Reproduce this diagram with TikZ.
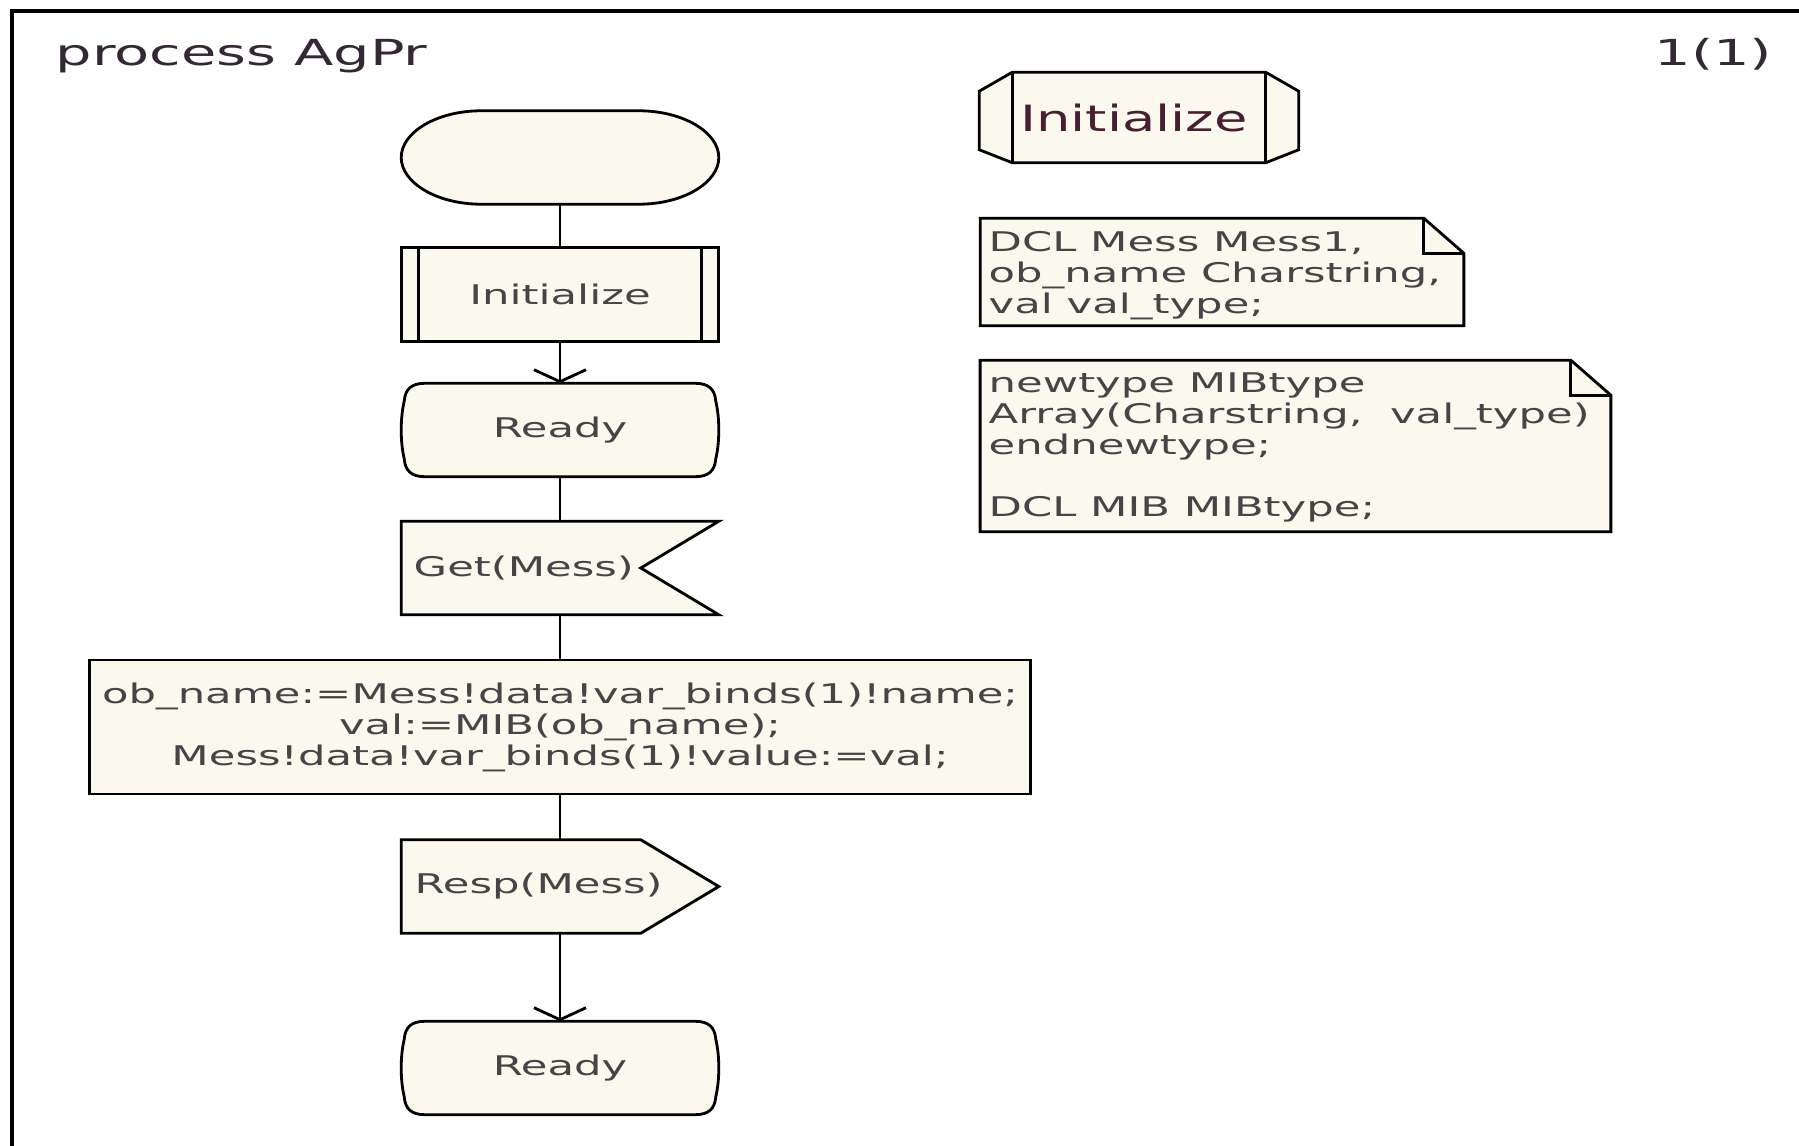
\documentclass[tikz,border=0pt]{standalone}
\usepackage{fontspec}
\setmainfont{DejaVu Sans}[FakeStretch=1.6]
\newfontfamily\reffont{DejaVu Sans}[FakeStretch=1.5]
\usetikzlibrary{calc,arrows.meta}
\pgfdeclarelayer{bg}
\pgfsetlayers{bg,main}
\definecolor{symfill}{RGB}{251,248,238}
\definecolor{inktext}{RGB}{70,68,70}
\definecolor{headtext}{RGB}{52,40,52}
\definecolor{reftext}{RGB}{72,30,50}

% SDL state symbol: flat top and bottom, slightly bulging sides, rounded corners
\newcommand\statesym[1]{%
  \draw[sym] ($(#1.north west)+(24,0)$) -- ($(#1.north east)+(-24,0)$)
    .. controls ($(#1.north east)+(-10,0)$) and ($(#1.north east)+(-4,6)$) .. ($(#1.north east)+(-3,18)$)
    .. controls ($(#1.north east)+(1,35)$) and ($(#1.south east)+(1,-35)$) .. ($(#1.south east)+(-3,-18)$)
    .. controls ($(#1.south east)+(-4,-6)$) and ($(#1.south east)+(-10,0)$) .. ($(#1.south east)+(-24,0)$)
    -- ($(#1.south west)+(24,0)$)
    .. controls ($(#1.south west)+(10,0)$) and ($(#1.south west)+(4,-6)$) .. ($(#1.south west)+(3,-18)$)
    .. controls ($(#1.south west)+(-1,-35)$) and ($(#1.north west)+(-1,35)$) .. ($(#1.north west)+(3,18)$)
    .. controls ($(#1.north west)+(4,6)$) and ($(#1.north west)+(10,0)$) .. cycle;}

\begin{document}
\begin{tikzpicture}[x=0.01cm,y=-0.01cm,
  sym/.style={draw=black,line width=0.8pt,fill=symfill,line join=miter},
  slot/.style={inner sep=0pt,minimum width=3.16cm,minimum height=0.92cm},
  lbl/.style={inner sep=0pt,text=inktext,font=\fontsize{7.7pt}{8.8pt}\selectfont},
  flow/.style={draw=black,line width=0.8pt},
  arr/.style={flow,-{Straight Barb[length=0.12cm,width=0.52cm]}}
]
\useasboundingbox (0,0) rectangle (1799,1146);

% page frame
\draw[line width=1.3pt] (1799,11) -- (12,11) -- (12,1146);

% headings
\node[anchor=base west,inner sep=0pt,text=headtext,font=\fontsize{10.2pt}{12pt}\selectfont] (title) at (55,66) {process AgPr};
\node[anchor=base east,inner sep=0pt,text=headtext,font=\fontsize{10.2pt}{12pt}\selectfont] (page) at (1773,66) {1(1)};

% flow column placeholders
\node[slot] (start) at (560,157.5) {};
\node[slot] (init) at (560,294.5) {};
\node[slot] (ready1) at (560,430) {};
\node[slot] (get) at (560,568) {};
\node[slot] (resp) at (560,886.5) {};
\node[slot] (ready2) at (560,1068) {};

% task symbol
\node[sym,inner sep=0pt,minimum width=9.4cm,minimum height=1.34cm,align=center,
      text=inktext,font=\fontsize{7.7pt}{8.8pt}\selectfont] (task) at (560,727)
  {ob\_name:=Mess!data!var\_binds(1)!name;\\val:=MIB(ob\_name);\\Mess!data!var\_binds(1)!value:=val;};

% declarations column placeholders
\node[inner sep=0pt,minimum width=3.18cm,minimum height=0.89cm] (ref) at (1139,117.5) {};
\node[inner sep=0pt,minimum width=4.82cm,minimum height=1.06cm] (ann1) at (1222,272) {};
\node[inner sep=0pt,minimum width=6.29cm,minimum height=1.70cm] (ann2) at (1295.5,446) {};

\begin{pgfonlayer}{bg}
  \fill[white] (0,0) rectangle (1799,1146);
  % start symbol
  \draw[sym] ($(start.north west)+(80,0)$) -- ($(start.north east)+(-80,0)$)
    .. controls ($(start.north east)+(-36,0)$) and ($(start.east)+(0,-25.4)$) .. (start.east)
    .. controls ($(start.east)+(0,25.4)$) and ($(start.south east)+(-36,0)$) .. ($(start.south east)+(-80,0)$)
    -- ($(start.south west)+(80,0)$)
    .. controls ($(start.south west)+(36,0)$) and ($(start.west)+(0,25.4)$) .. (start.west)
    .. controls ($(start.west)+(0,-25.4)$) and ($(start.north west)+(36,0)$) .. cycle;
  % procedure call
  \draw[sym] (init.north west) rectangle (init.south east);
  \draw[flow] ($(init.north west)+(17,0)$) -- ($(init.south west)+(17,0)$);
  \draw[flow] ($(init.north east)+(-17,0)$) -- ($(init.south east)+(-17,0)$);
  % states
  \statesym{ready1}
  \statesym{ready2}
  % input signal
  \draw[sym] (get.north west) -- (get.north east) -- ($(get.east)+(-78,0)$)
    -- (get.south east) -- (get.south west) -- cycle;
  % output signal
  \draw[sym] (resp.north west) -- ($(resp.north east)+(-78,0)$) -- (resp.east)
    -- ($(resp.south east)+(-78,0)$) -- (resp.south west) -- cycle;
  % procedure reference
  \draw[sym] ($(ref.north west)+(33,0)$) -- ($(ref.north east)+(-33,0)$)
    -- ($(ref.north east)+(0,19)$) -- ($(ref.south east)+(0,-13)$)
    -- ($(ref.south east)+(-33,0)$) -- ($(ref.south west)+(33,0)$)
    -- ($(ref.south west)+(0,-13)$) -- ($(ref.north west)+(0,19)$) -- cycle;
  \draw[flow] ($(ref.north west)+(33,0)$) -- ($(ref.south west)+(33,0)$);
  \draw[flow] ($(ref.north east)+(-33,0)$) -- ($(ref.south east)+(-33,0)$);
  % text annotations with folded corner
  \draw[sym] (ann1.north west) -- ($(ann1.north east)+(-40,0)$) -- ($(ann1.north east)+(0,35)$)
    -- (ann1.south east) -- (ann1.south west) -- cycle;
  \draw[flow] ($(ann1.north east)+(-40,0)$) |- ($(ann1.north east)+(0,35)$);
  \draw[sym] (ann2.north west) -- ($(ann2.north east)+(-40,0)$) -- ($(ann2.north east)+(0,35)$)
    -- (ann2.south east) -- (ann2.south west) -- cycle;
  \draw[flow] ($(ann2.north east)+(-40,0)$) |- ($(ann2.north east)+(0,35)$);
\end{pgfonlayer}

% symbol texts
\node[lbl] (init-t) at (init) {Initialize};
\node[lbl] (ready1-t) at (ready1) {Ready};
\node[lbl,anchor=west] (get-t) at (413,568) {Get(Mess)};
\node[lbl,anchor=west] (resp-t) at (414,886.5) {Resp(Mess)};
\node[lbl] (ready2-t) at (ready2) {Ready};
\node[inner sep=0pt,text=reftext,font=\reffont\fontsize{10.3pt}{12pt}\selectfont] (ref-t) at (1134,118.5) {Initialize};
\node[lbl,anchor=north west,align=left] (ann1-t) at (988,231)
  {DCL Mess Mess1,\\ob\_name Charstring,\\val val\_type;};
\node[lbl,anchor=north west,align=left] (ann2-t) at (988,372)
  {newtype MIBtype\\Array(Charstring,\ \ val\_type)\\endnewtype;\\[8.8pt]DCL MIB MIBtype;};

% connectors
\draw[flow] (start) -- (init);
\draw[arr] (init) -- (ready1);
\draw[flow] (ready1) -- (get);
\draw[flow] (get) -- (task);
\draw[flow] (task) -- (resp);
\draw[arr] (resp) -- (ready2);
\end{tikzpicture}
\end{document}
